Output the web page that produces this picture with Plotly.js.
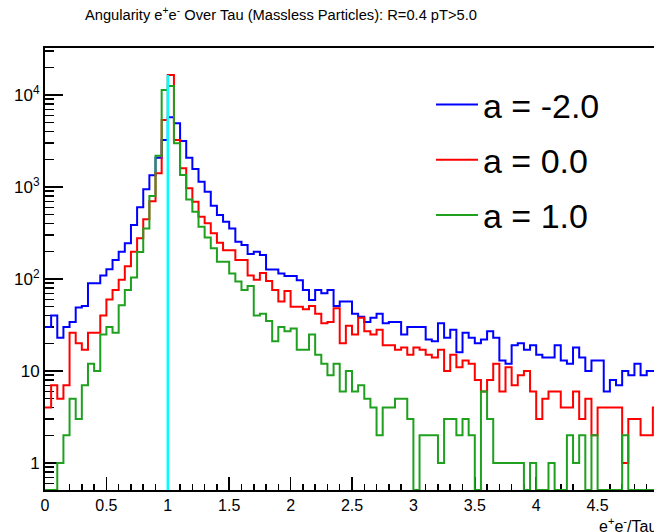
<!DOCTYPE html>
<html><head><meta charset="utf-8">
<script src="https://cdn.plot.ly/plotly-3.0.1.min.js"></script>
<style>html,body{margin:0;padding:0;overflow:hidden;background:#fff}#chart{width:670px;height:532px}</style>
</head><body><div id="chart"></div>
<script>
// binning of the histograms
const xMin = 0, xMax = 5, nBins = 100;
const seriesNames = ['a = -2.0', 'a = 0.0', 'a = 1.0'];
const seriesColors = ['#0000ff', '#ff0000', '#1fa01f'];

// bin contents (100 bins of width 0.05)
const countsA_m2 = [30,40,23,30,34,49,51,90,90,109,
  128,161,198,244,386,602,944,1341,2082,3243,
  5725,4923,3162,2082,1570,1142,889,626,496,420,
  355,254,234,187,198,182,127,127,115,108,
  108,97,76,59,76,70,76,51,57,57,
  42,39,34,38,42,33,34,34,25,30,
  30,30,22,21,33,23,28,16,26,23,
  20,22,27,23,13,12,19,20,17,19,
  15,14,14,19,13,12,18,14,10,13,
  13,6,8,7,10,9,12,9,10,10];
const countsA_0 = [4,7,5,7,26,20,17,26,26,40,
  60,76,98,138,198,277,446,700,1409,5350,
  16500,3243,1597,968,693,476,403,314,248,205,
  205,161,161,109,98,116,95,76,57,74,
  50,50,47,51,42,33,34,48,20,31,
  25,38,27,25,28,19,19,17,18,15,
  18,17,15,14,17,10,15,11,13,12,
  8,6,8,12,6,11,7,9,10,6,
  3,5,6,6,4,4,6,3,5,2,
  4,4,4,4,1,3,3,2,2,4];
const countsA_1 = [0,0,1,2,5,3,7,12,10,25,
  30,26,52,76,104,196,355,800,2190,11340,
  12530,2985,1350,730,539,370,283,216,154,154,
  115,94,76,84,40,42,35,21,30,27,
  29,17,17,25,15,12,9,12,6,10,
  6,7,5,4,2,4,4,5,5,3,
  0,2,2,2,1,3,3,2,3,2,
  0,6,3,1,1,1,1,1,0,1,
  0,0,1,0,0,2,1,2,0,2,
  0,0,0,0,2,0,0,0,0,0];
const refLineX = 1.0;

// axis settings
const yLogRange = [-0.2935, 4.511];
const yTickVals = [1, 10, 100, 1000, 10000];
const yTickText = ['1', '10', '10<sup>2</sup>', '10<sup>3</sup>', '10<sup>4</sup>'];
const yMinorVals = [];
for (let d = -1; d <= 4; d++) for (let m = 2; m <= 9; m++) yMinorVals.push(m * Math.pow(10, d));

const binW = (xMax - xMin) / nBins;
const edges = Array.from({length: nBins + 1}, (_, i) => xMin + i * binW);
const yFloor = Math.pow(10, yLogRange[0]);

function stepTrace(vals, name, color) {
  const y = vals.map(v => v > 0 ? v : yFloor);
  y.push(y[y.length - 1]);
  return {type: 'scatter', mode: 'lines', x: edges, y: y, name: name, legendgroup: name,
          line: {color: color, width: 2, shape: 'hv'}, hoverinfo: 'skip'};
}

const traces = [
  stepTrace(countsA_m2, seriesNames[0], seriesColors[0]),
  stepTrace(countsA_0, seriesNames[1], seriesColors[1]),
  stepTrace(countsA_1, seriesNames[2], seriesColors[2]),
  {type: 'scatter', mode: 'lines', x: [refLineX, refLineX],
   y: [yFloor, Math.max(...countsA_0)], showlegend: false,
   line: {color: '#00ffff', width: 2.5}, hoverinfo: 'skip'}
];

const font = 'Liberation Sans, Arial, Helvetica, sans-serif';
const layout = {
  width: 670, height: 532,
  margin: {l: 45, r: 11, t: 48, b: 42},
  paper_bgcolor: '#fff', plot_bgcolor: '#fff',
  font: {family: font, color: '#000'},
  showlegend: true,
  title: {text: 'Angularity e<sup>+</sup>e<sup>-</sup> Over Tau (Massless Particles): R=0.4 pT&gt;5.0',
          font: {family: font, size: 14.7, color: '#000'},
          xref: 'container', x: 281 / 670, xanchor: 'center',
          yref: 'container', y: 1 - 15 / 532, yanchor: 'middle'},
  xaxis: {range: [xMin, xMax], dtick: 0.5, tick0: 0, ticks: 'inside', ticklen: 13, tickwidth: 1.5,
          tickcolor: '#000', showgrid: false, zeroline: false, showline: true, linecolor: '#000',
          linewidth: 2, mirror: true, layer: 'below traces',
          tickfont: {family: font, size: 16, color: '#000'},
          minor: {dtick: 0.1, tick0: 0, ticks: 'inside', ticklen: 6.5, tickwidth: 1.5, tickcolor: '#000', showgrid: false}},
  yaxis: {type: 'log', range: yLogRange, tickmode: 'array', tickvals: yTickVals, ticktext: yTickText,
          ticks: 'inside', ticklen: 18, tickwidth: 1.5, tickcolor: '#000', showgrid: false, zeroline: false,
          showline: true, linecolor: '#000', linewidth: 2, mirror: true, layer: 'below traces',
          tickfont: {family: font, size: 17, color: '#000'},
          minor: {tickmode: 'array', tickvals: yMinorVals, ticks: 'inside', ticklen: 9, tickwidth: 1.5,
                  tickcolor: '#000', showgrid: false}},
  legend: {x: (431 - 45) / 614, xanchor: 'left', y: (490 - 76) / 442, yanchor: 'top',
           bgcolor: 'rgba(0,0,0,0)', borderwidth: 0, tracegroupgap: 8, itemwidth: 42,
           font: {family: font, size: 34, color: '#000'}},
  annotations: [{text: 'e<sup>+</sup>e<sup>-</sup>/Tau', xref: 'x', x: xMax, xanchor: 'right',
                 yref: 'paper', y: (490 - 525) / 442, yanchor: 'middle', showarrow: false,
                 font: {family: font, size: 16, color: '#000'}}]
};

Plotly.newPlot('chart', traces, layout, {staticPlot: true, displayModeBar: false});
</script>
</body></html>
